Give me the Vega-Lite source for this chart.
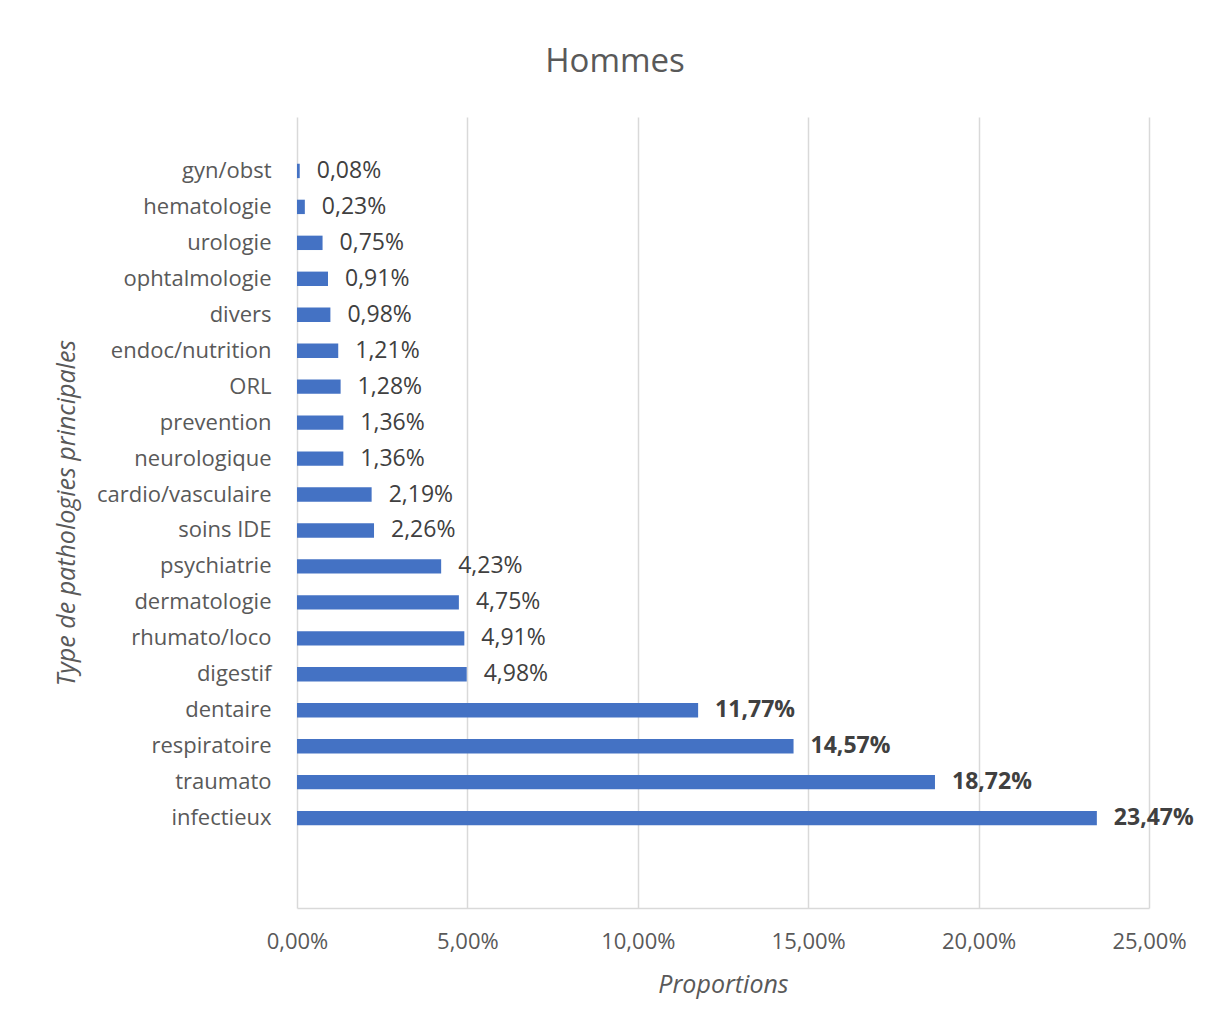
{
  "$schema": "https://vega.github.io/schema/vega-lite/v6.json",
  "width": 852,
  "height": 791,
  "autosize": "none",
  "padding": {"left": 297, "top": 117, "right": 68, "bottom": 121},
  "background": "white",
  "title": {
    "text": "Hommes",
    "font": "Open Sans",
    "fontSize": 33,
    "fontWeight": "normal",
    "color": "#595959",
    "anchor": "middle",
    "dx": -108,
    "offset": 38
  },
  "config": {
    "locale": {"number": {"decimal": ",", "thousands": " ", "grouping": [3], "currency": ["", " €"]}},
    "view": {"stroke": null},
    "font": "Open Sans"
  },
  "data": {
    "values": [
      {"cat": "gyn/obst", "v": 0.0008},
      {"cat": "hematologie", "v": 0.0023},
      {"cat": "urologie", "v": 0.0075},
      {"cat": "ophtalmologie", "v": 0.0091},
      {"cat": "divers", "v": 0.0098},
      {"cat": "endoc/nutrition", "v": 0.0121},
      {"cat": "ORL", "v": 0.0128},
      {"cat": "prevention", "v": 0.0136},
      {"cat": "neurologique", "v": 0.0136},
      {"cat": "cardio/vasculaire", "v": 0.0219},
      {"cat": "soins IDE", "v": 0.0226},
      {"cat": "psychiatrie", "v": 0.0423},
      {"cat": "dermatologie", "v": 0.0475},
      {"cat": "rhumato/loco", "v": 0.0491},
      {"cat": "digestif", "v": 0.0498},
      {"cat": "dentaire", "v": 0.1177},
      {"cat": "respiratoire", "v": 0.1457},
      {"cat": "traumato", "v": 0.1872},
      {"cat": "infectieux", "v": 0.2347}
    ]
  },
  "encoding": {
    "y": {
      "field": "cat",
      "type": "nominal",
      "sort": null,
      "scale": {
        "domain": [" ", "gyn/obst", "hematologie", "urologie", "ophtalmologie", "divers", "endoc/nutrition", "ORL", "prevention", "neurologique", "cardio/vasculaire", "soins IDE", "psychiatrie", "dermatologie", "rhumato/loco", "digestif", "dentaire", "respiratoire", "traumato", "infectieux", "  ", "   "],
        "paddingInner": 0.6,
        "paddingOuter": 0.3
      },
      "axis": {
        "title": "Type de pathologies principales",
        "titleFont": "Open Sans",
        "titleFontSize": 25,
        "titleFontStyle": "italic",
        "titleFontWeight": "normal",
        "titleColor": "#595959",
        "titlePadding": 18,
        "labelFont": "Open Sans",
        "labelFontSize": 22,
        "labelColor": "#595959",
        "labelPadding": 26,
        "ticks": false,
        "domain": false,
        "grid": false
      }
    },
    "x": {
      "field": "v",
      "type": "quantitative",
      "scale": {"domain": [0, 0.25], "nice": false},
      "axis": {
        "title": "Proportions",
        "format": ".2%",
        "values": [0, 0.05, 0.1, 0.15, 0.2, 0.25],
        "labelFlush": false,
        "titleFont": "Open Sans",
        "titleFontSize": 25,
        "titleFontStyle": "italic",
        "titleFontWeight": "normal",
        "titleColor": "#595959",
        "titlePadding": 20,
        "labelFont": "Open Sans",
        "labelFontSize": 22,
        "labelColor": "#595959",
        "labelPadding": 23,
        "ticks": false,
        "domainColor": "#D9D9D9",
        "domainWidth": 1.5,
        "gridColor": "#D9D9D9",
        "gridWidth": 1.5
      }
    }
  },
  "layer": [
    {"mark": {"type": "bar", "color": "#4472C4"}},
    {
      "transform": [{"filter": "datum.v < 0.1"}],
      "mark": {"type": "text", "align": "left", "baseline": "middle", "dx": 17, "font": "Open Sans", "fontSize": 23, "color": "#404040"},
      "encoding": {"text": {"field": "v", "type": "quantitative", "format": ".2%"}}
    },
    {
      "transform": [{"filter": "datum.v >= 0.1"}],
      "mark": {"type": "text", "align": "left", "baseline": "middle", "dx": 17, "font": "Open Sans", "fontSize": 23, "fontWeight": "bold", "color": "#404040"},
      "encoding": {"text": {"field": "v", "type": "quantitative", "format": ".2%"}}
    }
  ]
}
